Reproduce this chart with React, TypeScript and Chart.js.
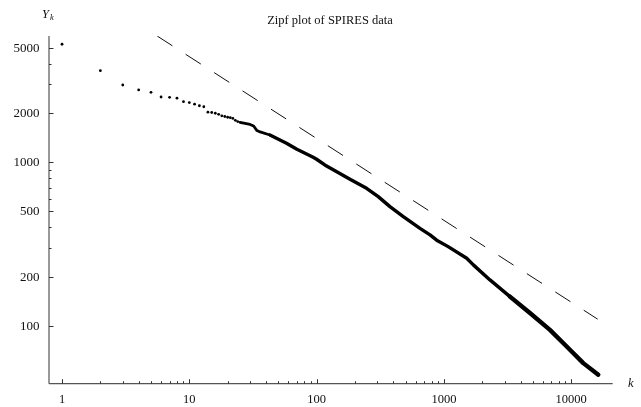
import { useEffect, useRef } from 'react';
import { Chart, registerables } from 'chart.js';

Chart.register(...registerables);

// ---- data ----
const dotRanks = [1, 2, 3, 4, 5, 6, 7, 8, 9, 10, 11, 12, 13, 14, 15, 16, 17, 18, 19, 20, 21, 22, 23, 24];
const dotValues = [5250, 3620, 2960, 2760, 2670, 2500, 2490, 2460, 2340, 2310, 2260, 2210, 2180, 2020, 2010, 1990, 1960, 1920, 1900, 1880, 1870, 1850, 1800, 1770];

const curveRanks = [25, 28, 30, 32, 34, 36, 43, 58, 70, 74, 94, 100, 116, 144, 183, 247, 305, 377, 480, 649, 778, 878, 1080, 1511, 1703, 2302, 3305, 4745, 6810, 9220, 12450, 16330];
const curveValues = [1750, 1720, 1700, 1663, 1560, 1530, 1466, 1303, 1199, 1175, 1071, 1042, 962, 875, 787, 693, 616, 535, 465, 394, 360, 334, 305, 259, 236, 191, 151, 120, 94.6, 74.9, 59.3, 50.4];

const zipfRanks = [5.6, 16150];
const zipfValues = [5890, 110];

const xMajorTicks = [1, 10, 100, 1000, 10000];
const xMinorMult = [2, 3, 4, 5, 6, 7, 8, 9];
const yMajorTicks = [100, 200, 500, 1000, 2000, 5000];
const yMinorTicks = [300, 400, 600, 700, 800, 900, 3000, 4000];

const TITLE = 'Zipf plot of SPIRES data';
const SERIF = '"Liberation Serif", "DejaVu Serif", serif';

const axesPlugin = {
  id: 'zipfAxes',
  beforeDatasetsDraw(chart: any) {
    const { ctx, chartArea: a } = chart;
    const xs = chart.scales.x;
    const ys = chart.scales.y;
    ctx.save();
    ctx.strokeStyle = '#555';
    ctx.lineWidth = 1.2;
    ctx.beginPath();
    ctx.moveTo(a.left, a.top);
    ctx.lineTo(a.left, a.bottom);
    ctx.moveTo(a.left, a.bottom);
    ctx.lineTo(a.right, a.bottom);
    ctx.stroke();

    ctx.lineWidth = 1;
    ctx.strokeStyle = '#333';
    ctx.beginPath();
    const xMinor: number[] = [];
    for (const d of [1, 10, 100, 1000]) for (const m of xMinorMult) xMinor.push(d * m);
    for (const v of xMajorTicks) {
      const px = Math.round(xs.getPixelForValue(v)) + 0.5;
      ctx.moveTo(px, a.bottom);
      ctx.lineTo(px, a.bottom - 4.5);
    }
    for (const v of xMinor) {
      const px = Math.round(xs.getPixelForValue(v)) + 0.5;
      ctx.moveTo(px, a.bottom);
      ctx.lineTo(px, a.bottom - 2.5);
    }
    for (const v of yMajorTicks) {
      const py = Math.round(ys.getPixelForValue(v)) + 0.5;
      ctx.moveTo(a.left, py);
      ctx.lineTo(a.left + 4.5, py);
    }
    for (const v of yMinorTicks) {
      const py = Math.round(ys.getPixelForValue(v)) + 0.5;
      ctx.moveTo(a.left, py);
      ctx.lineTo(a.left + 2.5, py);
    }
    ctx.stroke();
    ctx.restore();
  },
  afterDraw(chart: any) {
    const { ctx, chartArea: a } = chart;
    const xs = chart.scales.x;
    const ys = chart.scales.y;
    ctx.save();
    ctx.fillStyle = '#111';
    ctx.font = `12.5px ${SERIF}`;
    ctx.textAlign = 'center';
    ctx.textBaseline = 'middle';
    for (const v of xMajorTicks) {
      ctx.fillText(String(v), xs.getPixelForValue(v), a.bottom + 16);
    }
    ctx.font = `13px ${SERIF}`;
    ctx.textAlign = 'right';
    for (const v of yMajorTicks) {
      ctx.fillText(String(v), a.left - 9.5, ys.getPixelForValue(v) + 0.5);
    }
    // title
    ctx.textAlign = 'center';
    ctx.font = `12.5px ${SERIF}`;
    ctx.fillText(TITLE, 330, 21);
    // axis labels
    ctx.textAlign = 'left';
    ctx.font = `italic 12.5px ${SERIF}`;
    ctx.fillText('Y', 42, 14.5);
    ctx.font = `italic 8.5px ${SERIF}`;
    ctx.fillText('k', 50, 18);
    ctx.font = `italic 12.5px ${SERIF}`;
    ctx.fillText('k', 628, 384);
    ctx.restore();
  },
};

export default function App() {
  const ref = useRef<HTMLCanvasElement | null>(null);

  useEffect(() => {
    if (!ref.current) return;
    const chart = new Chart(ref.current, {
      type: 'scatter',
      data: {
        datasets: [
          {
            label: 'top ranks',
            data: dotRanks.map((k, i) => ({ x: k, y: dotValues[i] })),
            showLine: false,
            pointRadius: 1.4,
            pointBorderWidth: 0,
            pointBackgroundColor: '#000',
            borderColor: '#000',
          },
          {
            label: 'SPIRES',
            data: curveRanks.map((k, i) => ({ x: k, y: curveValues[i] })),
            showLine: true,
            pointRadius: 0,
            borderColor: '#000',
            borderWidth: 3.4,
            borderCapStyle: 'round',
            borderJoinStyle: 'round',
            tension: 0,
            segment: {
              borderWidth: (c: any) => (c.p0.parsed.x < 40 ? 2.8 : c.p0.parsed.x < 3000 ? 3.4 : 4.4),
            },
          } as any,
          {
            label: 'Zipf',
            data: zipfRanks.map((k, i) => ({ x: k, y: zipfValues[i] })),
            showLine: true,
            pointRadius: 0,
            borderColor: '#111',
            borderWidth: 1,
            borderDash: [18, 15.8],
            tension: 0,
          },
        ],
      },
      options: {
        animation: false,
        responsive: false,
        devicePixelRatio: 1,
        layout: { padding: { left: 49, right: 28.3, top: 36, bottom: 23.3 } },
        plugins: { legend: { display: false }, tooltip: { enabled: false }, title: { display: false } },
        scales: {
          x: { type: 'logarithmic', min: 0.79, max: 21200, display: false },
          y: { type: 'logarithmic', min: 44.4, max: 5894, display: false },
        },
      },
      plugins: [axesPlugin],
    });
    return () => chart.destroy();
  }, []);

  return (
    <div style={{ position: 'absolute', left: 0, top: 0, width: 641, height: 407, background: '#fff' }}>
      <canvas ref={ref} width={641} height={407} style={{ width: 641, height: 407 }} />
    </div>
  );
}
